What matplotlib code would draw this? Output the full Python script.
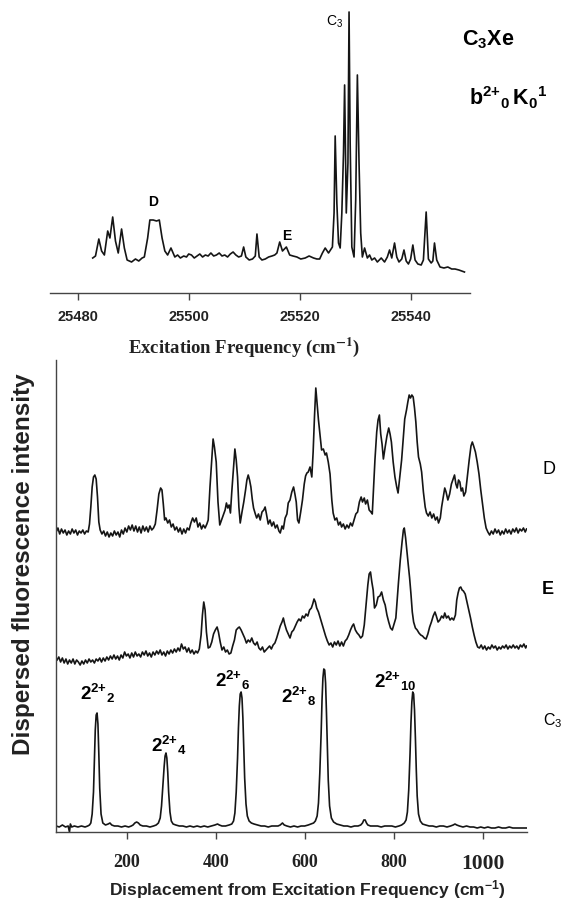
import matplotlib
matplotlib.use('Agg')
import matplotlib.pyplot as plt

plt.rcParams['font.family'] = ['Liberation Sans', 'DejaVu Sans']
plt.rcParams['mathtext.fontset'] = 'custom'
plt.rcParams['mathtext.rm'] = 'Liberation Sans'
plt.rcParams['mathtext.bf'] = 'Liberation Sans:bold'
plt.rcParams['mathtext.it'] = 'Liberation Sans:italic'

# excitation spectrum (top panel)
exc_freq = [25482.7, 25483.2, 25483.8, 25484.3, 25484.8, 25485.4, 25485.8, 25486.3, 25486.8,
            25487.3, 25487.9, 25488.4, 25488.9, 25489.7, 25490.4, 25491.0, 25491.6, 25492.0,
            25492.6, 25493.0, 25493.6, 25494.2, 25494.7, 25495.2, 25495.7, 25496.2, 25496.8,
            25497.5, 25498.0, 25498.5, 25499.1, 25499.6, 25500.0, 25500.5, 25501.0, 25501.5,
            25502.0, 25502.5, 25503.0, 25503.5, 25504.0, 25504.5, 25505.0, 25505.5, 25506.0,
            25506.5, 25507.0, 25507.5, 25508.0, 25508.5, 25509.0, 25509.5, 25509.9, 25510.3,
            25510.9, 25511.5, 25512.0, 25512.3, 25512.7, 25513.2, 25513.8, 25514.4, 25515.0,
            25515.5, 25515.9, 25516.4, 25516.9, 25517.6, 25518.2, 25518.8, 25519.5, 25520.2,
            25521.0, 25521.7, 25522.5, 25523.1, 25523.6, 25524.1, 25524.6, 25525.2, 25525.9,
            25526.2, 25526.4, 25526.7, 25527.0, 25527.3, 25527.6, 25527.9, 25528.1, 25528.4,
            25528.7, 25528.9, 25529.1, 25529.4, 25529.8, 25530.1, 25530.4, 25530.7, 25531.0,
            25531.3, 25531.7, 25532.2, 25532.6, 25533.0, 25533.5, 25534.0, 25534.7, 25535.3,
            25535.8, 25536.2, 25536.6, 25537.1, 25537.5, 25537.9, 25538.4, 25538.8, 25539.2,
            25539.6, 25540.0, 25540.4, 25540.8, 25541.3, 25541.9, 25542.3, 25542.8, 25543.2,
            25543.7, 25544.0, 25544.3, 25544.7, 25545.3, 25546.0, 25546.7, 25547.4, 25548.0,
            25548.7, 25549.2, 25549.7]
exc_int = [35, 37, 54, 42, 38, 62, 55, 76, 52,
           40, 64, 45, 33, 31, 34, 32, 35, 36,
           55, 73, 73, 72, 73, 55, 42, 38, 45,
           36, 38, 35, 37, 36, 39, 38, 35, 37,
           39, 36, 38, 37, 40, 37, 38, 40, 37,
           38, 36, 39, 41, 38, 36, 37, 46, 36,
           33, 34, 37, 59, 36, 33, 34, 36, 37,
           38, 40, 51, 42, 46, 38, 37, 36, 34,
           35, 37, 35, 34, 34, 40, 45, 40, 46,
           80, 157, 90, 50, 45, 80, 140, 208, 80,
           130, 281, 150, 46, 36, 93, 218, 130, 60,
           36, 45, 35, 38, 33, 35, 31, 35, 31,
           36, 43, 35, 50, 36, 31, 34, 43, 32,
           29, 34, 48, 33, 29, 28, 33, 81, 34,
           30, 32, 50, 33, 26, 25, 26, 24, 24,
           23, 22, 21]

exc_ticks = [25480, 25500, 25520, 25540]

# dispersed fluorescence traces (bottom panel)
d_shift = [41, 45, 49, 53, 57, 61, 65, 69, 73, 77, 81, 85, 89, 93, 97, 101, 105, 109, 113,
           116, 119, 122, 125, 128, 131, 134, 137, 140,
           144, 148, 152, 156, 160, 164, 168, 172, 176, 180, 184, 188, 192, 196, 200, 204, 208,
           212, 216, 220, 224, 228, 232, 236, 240, 244, 248, 252, 256, 260, 264,
           268, 272, 276, 279, 282, 285, 288, 292, 296, 300, 304, 308, 312, 316, 320, 324, 328,
           332, 336, 340, 344, 348, 352, 356, 360, 364, 368, 372, 376, 380,
           383, 387, 391, 394, 397, 401, 405, 409, 413, 417, 421, 424, 427, 430, 433, 436, 440,
           443, 446, 449, 452, 455, 459, 463, 467, 470, 473, 476, 479, 482, 485, 489, 492, 496,
           500, 504, 508, 511, 514, 518, 522, 526, 530, 534, 538, 542, 545, 549, 552, 556, 560,
           563, 567, 571, 575, 578, 581, 584, 587, 591, 595, 599, 602, 605, 608, 612, 616, 619,
           622, 625, 628, 631, 635, 638, 642, 646, 649, 653, 657, 661, 664, 668, 672, 676, 680,
           683, 687, 691, 695, 699, 703, 707, 711, 715, 719, 723, 727, 730, 734, 737, 741, 745,
           749, 752, 755, 758, 762, 765, 768, 771, 774, 777, 781, 785, 789, 792, 795, 799, 803,
           807, 810, 814, 818, 822, 825, 829, 832, 835, 838, 841, 844, 847, 850, 853, 856, 860,
           863, 867, 871, 874, 878, 882, 886, 890, 894, 898, 901, 905, 908, 912, 915, 918, 922,
           926, 930, 934, 937, 940, 943, 946, 949, 952, 955, 958, 962, 966, 970, 974, 977, 980,
           984, 988, 992, 996, 1000, 1004, 1008, 1012, 1016, 1020, 1024, 1028, 1032, 1036, 1040,
           1044, 1048, 1052, 1056, 1060, 1064, 1068, 1072, 1076, 1080, 1084, 1088, 1092, 1096, 1099]
d_int = [0, 4, -2, 3, -1, 2, -3, 1, -2, 3, -1, 2, -3, 1, -1, 2, -2, 1, 0,
         8, 25, 45, 55, 57, 53, 35, 10, 2,
         -2, 1, -4, 0, -5, -1, -4, 1, -3, 0, -5, 2, -2, 4, 0, 6, 2,
         7, 1, 6, 0, 5, -1, 6, 1, 5, 0, 6, 2, 4, 8,
         22, 38, 44, 42, 28, 12, 14, 9, 12, 5, 8, 2, 5, 0, 4, -2, 3,
         -1, 4, 2, 9, 14, 10, 14, 5, 9, 3, 7, 4, 8,
         12, 45, 72, 93, 85, 70, 30, 7, 12, 17, 22, 29, 24, 27, 19, 40, 65,
         83, 72, 55, 25, 9, 20, 30, 42, 52, 57, 52, 45, 33, 24, 18, 14, 18,
         12, 20, 22, 25, 18, 8, 12, 6, 10, 4, 7, 1, -1, 6, 3, 14, 18,
         29, 32, 40, 45, 38, 30, 12, 9, 20, 32, 48, 56, 59, 60, 65, 55, 80,
         115, 144, 128, 112, 95, 82, 83, 77, 79, 70, 58, 32, 19, 12, 14, 7, 10,
         5, 8, 3, 7, 4, 9, 6, 12, 18, 20, 30, 35, 30, 34, 28, 32, 22,
         20, 18, 45, 72, 100, 112, 117, 98, 88, 73, 85, 96, 104, 98, 90, 70, 55,
         45, 39, 55, 72, 95, 113, 122, 130, 137, 134, 137, 135, 124, 110, 90, 75, 68,
         60, 40, 25, 19, 16, 20, 14, 18, 12, 15, 9, 14, 25, 36, 44, 40, 32,
         38, 48, 53, 57, 48, 44, 52, 50, 41, 44, 36, 40, 56, 72, 86, 90, 86,
         80, 70, 58, 42, 28, 14, 4, 0, -3, 1, -2, 3, -1, 2, -3,
         1, -2, 3, -1, 2, -2, 3, 0, 4, -1, 3, 1, 4, 0, 3]

e_shift = [43, 47, 51, 55, 59, 63, 67, 71, 75, 79, 83, 87, 91, 95, 99, 103, 107, 111, 115,
           119, 123, 127, 131, 135, 139, 143, 147, 151, 155, 159, 163, 167, 171, 175, 179, 183,
           187, 191, 195, 199, 203, 207, 211, 215, 219, 223, 227, 231, 235, 239, 243, 247, 251,
           255, 259, 263, 267, 271, 275, 279, 283, 287, 291, 295, 299, 303, 307, 311, 315, 319,
           323, 327, 331, 335, 339, 343, 347, 351, 355, 359, 363, 367, 370, 373, 376, 379, 383,
           387, 391, 395, 399, 403, 406, 410, 414, 418, 422, 426, 430, 434, 438, 442, 446, 450,
           453, 457, 461, 465, 469, 473, 477, 481, 485, 489, 493, 497, 501, 505, 509, 513, 517,
           521, 525, 529, 533, 537, 541, 545, 549, 552, 555, 559, 563, 567, 571, 575, 579, 583,
           587, 591, 595, 599, 603, 607, 611, 615, 618, 621, 624, 627, 631, 635, 639, 643, 647,
           651, 655, 659, 663, 667, 671, 675, 679, 683, 687, 691, 695, 699, 703, 707, 710, 714,
           718, 722, 726, 730, 734, 738, 742, 745, 748, 751, 754, 757, 761, 765, 769, 773, 777,
           781, 785, 789, 793, 797, 801, 805, 808, 811, 815, 819, 822, 824, 827, 830, 833, 836,
           839, 842, 845, 849, 853, 857, 861, 865, 869, 873, 877, 881, 885, 889, 893, 896, 900,
           904, 908, 912, 915, 919, 923, 927, 931, 935, 939, 942, 945, 948, 951, 954, 957, 961,
           965, 969, 973, 977, 981, 985, 989, 993, 997, 1001, 1005, 1009, 1013, 1017, 1021, 1025,
           1029, 1033, 1037, 1041, 1045, 1049, 1053, 1057, 1061, 1065, 1069, 1073, 1077, 1081,
           1085, 1089, 1093, 1097, 1099]
e_int = [0, 3, -2, 2, -3, 1, -4, 0, -3, 1, -4, 0, -2, -5, -1, -4, 0, -3, 1,
         -2, 0, -3, 1, -1, 2, -2, 2, -1, 3, 0, 4, 1, 5, 1, 4, 0,
         5, 2, 8, 4, 6, 2, 7, 3, 8, 4, 6, 3, 8, 5, 9, 4, 7,
         3, 8, 5, 9, 6, 10, 5, 8, 4, 9, 6, 10, 7, 11, 8, 12, 9,
         16, 11, 13, 8, 12, 7, 10, 6, 9, 7, 11, 25, 45, 58, 50, 28, 12,
         13, 18, 26, 30, 33, 28, 18, 10, 13, 8, 10, 6, 7, 14, 20, 30, 32,
         33, 30, 26, 22, 17, 20, 18, 22, 17, 15, 18, 12, 10, 13, 8, 10, 12,
         14, 11, 15, 17, 22, 28, 34, 38, 42, 36, 30, 26, 22, 28, 30, 34, 38,
         41, 39, 44, 42, 46, 44, 50, 52, 56, 61, 58, 52, 48, 42, 36, 30, 24,
         19, 15, 17, 13, 18, 15, 19, 14, 18, 14, 19, 21, 25, 30, 34, 36, 30,
         27, 25, 22, 24, 35, 55, 75, 86, 88, 78, 70, 52, 55, 63, 64, 68, 60,
         55, 45, 38, 32, 30, 36, 42, 60, 78, 100, 118, 130, 132, 122, 108, 95, 82,
         66, 48, 38, 32, 30, 27, 25, 24, 22, 21, 26, 33, 38, 44, 48, 44, 38,
         40, 44, 42, 47, 42, 44, 40, 42, 40, 45, 60, 67, 72, 73, 70, 69, 66,
         58, 50, 42, 33, 25, 18, 13, 12, 15, 11, 14, 10, 13, 11, 15, 12,
         14, 10, 13, 11, 14, 12, 15, 11, 14, 12, 15, 12, 14, 11,
         15, 13, 16, 12, 14]

c3_shift = [41, 48, 55, 62, 68, 71, 73, 76, 82, 90, 98, 106, 112, 116, 119, 122, 125, 127, 129,
            131, 133, 135, 137, 139, 142, 146, 152, 158, 162, 166, 172, 180, 188, 196, 204, 210,
            214, 218, 222, 226, 230, 236, 244, 252, 260, 266, 271, 275, 278, 281, 284, 286, 288,
            290, 292, 294, 297, 300, 304, 310, 318, 326, 334, 342, 350, 358, 366, 374, 382, 390,
            398, 404, 408, 414, 422, 430, 436, 440, 443, 446, 449, 451, 453, 455, 457, 459, 461,
            463, 465, 468, 471, 475, 480, 486, 494, 502, 510, 518, 526, 534, 540, 545, 550, 554,
            560, 568, 576, 584, 592, 600, 608, 614, 620, 624, 628, 631, 634, 637, 639, 641, 643,
            645, 647, 649, 651, 653, 656, 660, 665, 672, 680, 688, 696, 704, 712, 720, 726, 730,
            733, 736, 739, 742, 748, 756, 764, 772, 780, 788, 796, 804, 812, 818, 824, 828, 831,
            834, 837, 839, 841, 843, 845, 847, 849, 851, 853, 856, 860, 865, 872, 880, 888, 896,
            904, 912, 920, 928, 934, 938, 942, 948, 956, 964, 972, 980, 988, 996, 1004, 1012,
            1020, 1028, 1036, 1044, 1052, 1060, 1068, 1076, 1084, 1092, 1099]
c3_int = [2, 1, 3, 1, 2, -4, 4, 1, 2, 1, 2, 1, 2, 3, 5, 14, 36, 66, 98,
          113, 115, 104, 74, 40, 14, 5, 3, 4, 5, 3, 2, 2, 1, 2, 1, 2,
          3, 5, 6, 5, 3, 2, 2, 1, 2, 3, 5, 10, 22, 42, 62, 72, 75,
          70, 56, 36, 16, 7, 4, 3, 2, 2, 1, 2, 1, 2, 1, 2, 1, 2,
          3, 4, 3, 2, 2, 3, 4, 7, 15, 36, 70, 100, 122, 134, 136, 130, 110,
          80, 50, 24, 12, 7, 5, 4, 3, 2, 2, 1, 2, 2, 2, 3, 5, 3,
          2, 1, 2, 1, 2, 2, 3, 4, 5, 7, 12, 25, 55, 95, 128, 150, 159,
          158, 145, 115, 80, 48, 22, 10, 6, 4, 3, 2, 2, 1, 2, 2, 3, 5,
          8, 8, 5, 3, 2, 2, 2, 1, 2, 2, 2, 1, 2, 3, 5, 8, 16,
          38, 75, 105, 126, 136, 134, 118, 90, 58, 32, 14, 7, 4, 3, 2, 2, 1,
          2, 2, 1, 2, 3, 4, 3, 2, 1, 2, 1, 1, 0, 1, 0, 1,
          0, 0, 1, 0, 0, 1, 0, 0, 0, 0, 0]

traces = ['D', 'E', 'C$_3$']
trace_offsets = [300, 172, 4]
shift_ticks = [200, 400, 600, 800, 1000]

peak_labels = [r'$\mathbf{2^{2{+}}{}_{2}}$', r'$\mathbf{2^{2{+}}{}_{4}}$',
               r'$\mathbf{2^{2{+}}{}_{6}}$', r'$\mathbf{2^{2{+}}{}_{8}}$',
               r'$\mathbf{2^{2{+}}{}_{10}}$']
peak_label_pos = [(95, 132), (254, 80), (398, 145), (546, 129), (756, 144)]

W, H = 564, 899
line_col = '#151515'
spine_col = '#444444'


def fpos(x, y):
    # pixel position in the picture -> figure fraction
    return x / W, 1 - y / H


fig = plt.figure(figsize=(W / 100, H / 100), dpi=100)

# ---- top panel: excitation spectrum
ax1 = fig.add_axes([50 / W, 606 / H, 420 / W, 293 / H])
ax1.plot(exc_freq, exc_int, color=line_col, lw=1.2)
ax1.set_xlim(25475, 25550.7)
ax1.set_ylim(0, 293)
for s in ['top', 'right', 'left']:
    ax1.spines[s].set_visible(False)
ax1.spines['bottom'].set_color(spine_col)
ax1.spines['bottom'].set_linewidth(1.0)
ax1.set_yticks([])
ax1.set_xticks(exc_ticks)
ax1.tick_params(axis='x', direction='out', length=5, width=1, color=spine_col,
                pad=7, labelsize=10.5)
for lab in ax1.get_xticklabels():
    lab.set_fontweight('bold')
    lab.set_color('#222222')

ax1.text(25493.5, 91, 'D', ha='center', va='center', fontsize=10, fontweight='bold')
ax1.text(25517.6, 57, 'E', ha='center', va='center', fontsize=10, fontweight='bold')
ax1.text(25526.3, 271, 'C$_3$', ha='center', va='center', fontsize=10)

fig.text(*fpos(244, 353), r'Excitation Frequency (cm$^{\mathbf{-1}}$)', ha='center',
         va='baseline', family='Liberation Serif', fontweight='bold', fontsize=13.5,
         math_fontfamily='stix', color='#222222')
fig.text(*fpos(462, 40), r'$\mathbf{C_3Xe}$', ha='left', va='center', fontsize=15.5)
fig.text(*fpos(469, 98), r'$\mathbf{b^{2{+}}{}_0\,K_0{}^1}$', ha='left', va='center',
         fontsize=15.5)

# ---- bottom panel: dispersed fluorescence
ax2 = fig.add_axes([55.7 / W, 67 / H, 471.3 / W, 472 / H])
for (xs, ys), off in zip([(d_shift, d_int), (e_shift, e_int), (c3_shift, c3_int)],
                         trace_offsets):
    ax2.plot(xs, [v + off for v in ys], color=line_col, lw=1.2)
ax2.set_xlim(40, 1100)
ax2.set_ylim(0, 472)
ax2.spines['top'].set_visible(False)
ax2.spines['right'].set_visible(False)
for s in ['left', 'bottom']:
    ax2.spines[s].set_color(spine_col)
    ax2.spines[s].set_linewidth(1.0)
ax2.set_yticks([])
ax2.set_xticks(shift_ticks)
ax2.tick_params(axis='x', direction='out', length=5, width=1, color=spine_col, pad=11)
for lab in ax2.get_xticklabels():
    lab.set_family('Liberation Serif')
    lab.set_fontweight('bold')
    lab.set_fontsize(13)
    lab.set_color('#222222')
ax2.get_xticklabels()[-1].set_fontsize(15.5)

for txt, (x, y) in zip(peak_labels, peak_label_pos):
    ax2.text(x, y, txt, ha='left', va='baseline', fontsize=13.5)

fig.text(*fpos(542, 470), traces[0], ha='left', va='center', fontsize=13)
fig.text(*fpos(542, 589), traces[1], ha='left', va='center', fontsize=13, fontweight='bold')
fig.text(*fpos(543, 721), traces[2], ha='left', va='center', fontsize=11.5)

fig.text(*fpos(24, 564), 'Dispersed fluorescence intensity', rotation=90, ha='center',
         va='center', fontsize=17.5, fontweight='bold', color='#222222')
fig.text(*fpos(307, 895), r'Displacement from Excitation Frequency (cm$^{\mathbf{-1}}$)',
         ha='center', va='baseline', fontsize=12.6, fontweight='bold', color='#222222')

fig.savefig('out.png', dpi=100)
